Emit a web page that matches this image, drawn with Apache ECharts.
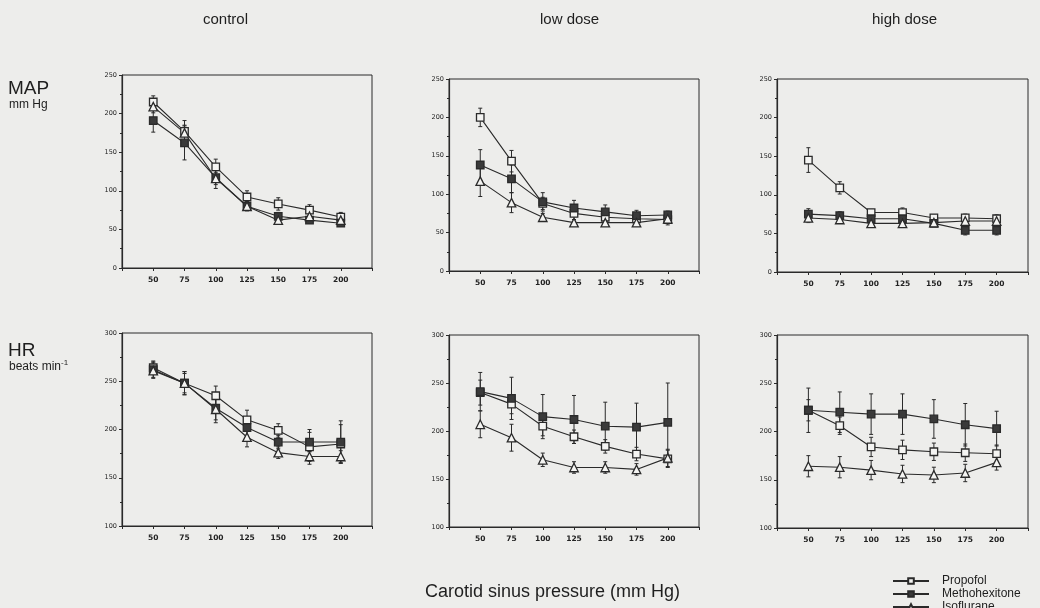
<!DOCTYPE html>
<html>
<head>
<meta charset="utf-8">
<script src="https://cdn.jsdelivr.net/npm/echarts@6/dist/echarts.min.js"></script>
<style>
  html, body { margin: 0; padding: 0; background: #ededeb; }
  #chart { width: 1040px; height: 608px; }
</style>
</head>
<body>
<div id="chart"></div>
<script>
// Carotid sinus pressure steps (mm Hg)
const pressures = [50, 75, 100, 125, 150, 175, 200];
const xTicks = ['50', '75', '100', '125', '150', '175', '200'];
const drugs = ['Propofol', 'Methohexitone', 'Isoflurane'];
const columnTitles = ['control', 'low dose', 'high dose'];

// Mean arterial pressure (mm Hg), means and SEM
const mapControlPropofol = [215, 177, 131, 92, 83, 75, 66];
const mapControlPropofolSem = [8, 14, 10, 8, 8, 7, 6];
const mapControlMetho = [191, 162, 117, 80, 67, 62, 58];
const mapControlMethoSem = [15, 22, 14, 6, 5, 4, 4];
const mapControlIso = [209, 175, 116, 80, 62, 67, 62];
const mapControlIsoSem = [8, 10, 8, 5, 5, 4, 4];

const mapLowPropofol = [200, 143, 88, 75, 70, 68, 67];
const mapLowPropofolSem = [12, 14, 8, 8, 6, 5, 5];
const mapLowMetho = [138, 120, 90, 82, 77, 72, 73];
const mapLowMethoSem = [20, 18, 12, 10, 9, 7, 5];
const mapLowIso = [117, 89, 70, 63, 63, 63, 68];
const mapLowIsoSem = [20, 13, 5, 4, 4, 4, 8];

const mapHighPropofol = [145, 109, 77, 77, 70, 70, 69];
const mapHighPropofolSem = [16, 8, 4, 6, 4, 5, 5];
const mapHighMetho = [75, 73, 69, 69, 63, 54, 54];
const mapHighMethoSem = [7, 5, 4, 4, 4, 6, 6];
const mapHighIso = [70, 68, 63, 63, 64, 66, 66];
const mapHighIsoSem = [6, 4, 4, 4, 4, 4, 4];

// Heart rate (beats/min), means and SEM
const hrControlPropofol = [264, 248, 235, 210, 199, 182, 185];
const hrControlPropofolSem = [7, 10, 10, 10, 7, 18, 20];
const hrControlMetho = [262, 248, 222, 202, 187, 187, 187];
const hrControlMethoSem = [8, 12, 12, 8, 7, 10, 22];
const hrControlIso = [261, 248, 221, 192, 176, 172, 172];
const hrControlIsoSem = [8, 12, 14, 10, 6, 5, 6];

const hrLowPropofol = [240, 228, 205, 194, 184, 176, 171];
const hrLowPropofolSem = [13, 10, 10, 7, 7, 7, 9];
const hrLowMetho = [241, 234, 215, 212, 205, 204, 209];
const hrLowMethoSem = [20, 22, 23, 25, 25, 25, 41];
const hrLowIso = [207, 193, 170, 162, 162, 160, 172];
const hrLowIsoSem = [14, 14, 7, 6, 6, 6, 9];

const hrHighPropofol = [222, 206, 184, 181, 179, 178, 177];
const hrHighPropofolSem = [11, 9, 10, 10, 9, 9, 9];
const hrHighMetho = [222, 220, 218, 218, 213, 207, 203];
const hrHighMethoSem = [23, 21, 21, 21, 20, 22, 18];
const hrHighIso = [164, 163, 160, 156, 155, 157, 168];
const hrHighIsoSem = [11, 11, 10, 9, 8, 9, 8];

const panels = [
  { box: [122, 75, 250, 193], y: [0, 250], sets: [[mapControlPropofol, mapControlPropofolSem], [mapControlMetho, mapControlMethoSem], [mapControlIso, mapControlIsoSem]] },
  { box: [449, 79, 250, 192], y: [0, 250], sets: [[mapLowPropofol, mapLowPropofolSem], [mapLowMetho, mapLowMethoSem], [mapLowIso, mapLowIsoSem]] },
  { box: [777, 79, 251, 193], y: [0, 250], sets: [[mapHighPropofol, mapHighPropofolSem], [mapHighMetho, mapHighMethoSem], [mapHighIso, mapHighIsoSem]] },
  { box: [122, 333, 250, 193], y: [100, 300], sets: [[hrControlPropofol, hrControlPropofolSem], [hrControlMetho, hrControlMethoSem], [hrControlIso, hrControlIsoSem]] },
  { box: [449, 335, 250, 192], y: [100, 300], sets: [[hrLowPropofol, hrLowPropofolSem], [hrLowMetho, hrLowMethoSem], [hrLowIso, hrLowIsoSem]] },
  { box: [777, 335, 251, 193], y: [100, 300], sets: [[hrHighPropofol, hrHighPropofolSem], [hrHighMetho, hrHighMethoSem], [hrHighIso, hrHighIsoSem]] }
];

const ink = '#2a2a2a';
const drugStyles = [
  { symbol: 'rect', fill: '#f4f4f2', size: 7.5 },
  { symbol: 'rect', fill: '#3a3a3a', size: 7.5 },
  { symbol: 'triangle', fill: '#f4f4f2', size: 8.5 }
];

const grid = [], xAxis = [], yAxis = [], series = [];

panels.forEach((p, i) => {
  grid.push({ left: p.box[0], top: p.box[1], width: p.box[2], height: p.box[3], show: true, borderColor: ink, borderWidth: 1, backgroundColor: 'transparent' });
  xAxis.push({
    gridIndex: i, type: 'value', min: 25, max: 225, interval: 25,
    axisLine: { lineStyle: { color: ink, width: 1.2 } },
    axisTick: { show: true, length: 3, lineStyle: { color: ink } },
    splitLine: { show: false },
    axisLabel: {
      color: '#222', fontSize: 7.5, fontWeight: 'bold', fontFamily: 'DejaVu Sans', margin: 8,
      formatter: v => (xTicks.indexOf(String(v)) >= 0 ? String(v) : '')
    }
  });
  yAxis.push({
    gridIndex: i, type: 'value', min: p.y[0], max: p.y[1], interval: 50,
    axisLine: { show: true, lineStyle: { color: ink, width: 1.2 } },
    axisTick: { show: true, length: 3, lineStyle: { color: ink } },
    minorTick: { show: true, splitNumber: 2, length: 2, lineStyle: { color: ink } },
    splitLine: { show: false },
    axisLabel: { color: '#222', fontSize: 6.5, fontFamily: 'DejaVu Sans', margin: 5 }
  });

  p.sets.forEach((set, d) => {
    const [means, sems] = set;
    const st = drugStyles[d];
    // vertical error bars with small caps
    series.push({
      type: 'custom', xAxisIndex: i, yAxisIndex: i, z: 1, silent: true,
      data: pressures.map((x, k) => [x, means[k] - sems[k], means[k] + sems[k]]),
      renderItem: (params, api) => {
        const lo = api.coord([api.value(0), api.value(1)]);
        const hi = api.coord([api.value(0), api.value(2)]);
        const c = 2;
        const s = { stroke: ink, lineWidth: 1 };
        return {
          type: 'group',
          children: [
            { type: 'line', shape: { x1: lo[0], y1: lo[1], x2: hi[0], y2: hi[1] }, style: s },
            { type: 'line', shape: { x1: lo[0] - c, y1: lo[1], x2: lo[0] + c, y2: lo[1] }, style: s },
            { type: 'line', shape: { x1: hi[0] - c, y1: hi[1], x2: hi[0] + c, y2: hi[1] }, style: s }
          ]
        };
      }
    });
    series.push({
      name: drugs[d], type: 'line', xAxisIndex: i, yAxisIndex: i, z: 3,
      data: pressures.map((x, k) => [x, means[k]]),
      symbol: st.symbol, symbolSize: st.size, showAllSymbol: true,
      lineStyle: { color: ink, width: 1.1 },
      itemStyle: { color: st.fill, borderColor: ink, borderWidth: 1.3 },
      emphasis: { disabled: true }
    });
  });
});

const textBase = { fill: '#1e1e1e', fontFamily: 'Liberation Sans' };
const graphic = [
  { type: 'text', left: 203, top: 12, style: Object.assign({ text: columnTitles[0], fontSize: 15 }, textBase) },
  { type: 'text', left: 540, top: 12, style: Object.assign({ text: columnTitles[1], fontSize: 15 }, textBase) },
  { type: 'text', left: 872, top: 12, style: Object.assign({ text: columnTitles[2], fontSize: 15 }, textBase) },
  { type: 'text', left: 8, top: 79, style: Object.assign({ text: 'MAP', fontSize: 19 }, textBase) },
  { type: 'text', left: 9, top: 99, style: Object.assign({ text: 'mm Hg', fontSize: 12 }, textBase) },
  { type: 'text', left: 8, top: 341, style: Object.assign({ text: 'HR', fontSize: 19 }, textBase) },
  { type: 'text', left: 9, top: 361, style: Object.assign({ text: 'beats min', fontSize: 12 }, textBase) },
  { type: 'text', left: 61, top: 359, style: Object.assign({ text: '-1', fontSize: 8 }, textBase) },
  { type: 'text', left: 425, top: 583, style: Object.assign({ text: 'Carotid sinus pressure (mm Hg)', fontSize: 18 }, textBase) }
];

const chart = echarts.init(document.getElementById('chart'), null, { renderer: 'canvas' });
chart.setOption({
  backgroundColor: '#ededeb',
  animation: false,
  grid, xAxis, yAxis, series, graphic,
  legend: {
    data: drugs, orient: 'vertical', left: 892, top: 575, width: 148, height: 80,
    itemWidth: 36, itemHeight: 7, itemGap: 1, padding: [0, 0, 0, 0],
    textStyle: { color: '#1e1e1e', fontSize: 12, fontFamily: 'Liberation Sans', padding: [0, 0, 0, 8] },
    selectedMode: false
  }
});
</script>
</body>
</html>
